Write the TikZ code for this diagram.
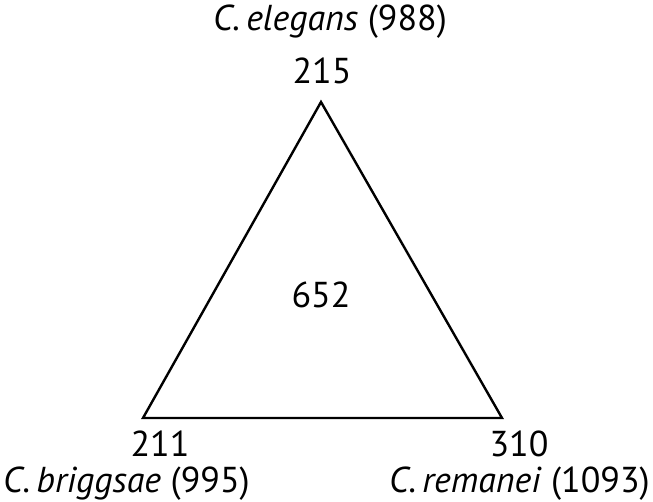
\documentclass[tikz,border=0pt]{standalone}
\usepackage{fontspec}
\setmainfont{PT Sans}
\begin{document}
\begin{tikzpicture}[x=1pt,y=1pt,
  lbl/.style={font=\fontsize{36}{43}\selectfont, inner sep=0pt, anchor=base}]
\useasboundingbox (0,0) rectangle (653,502);
\coordinate (A) at (321,400);
\coordinate (B) at (143,84);
\coordinate (C) at (502,84);
\draw[line width=2.4pt, line join=miter] (A) -- (B) -- (C) -- cycle;
\node[lbl] (ce) at (330,471) {\textit{C.\,elegans} (988)};
\node[lbl] (n215) at (322,418) {215};
\node[lbl] (n652) at (321,194) {652};
\node[lbl] (n211) at (160,45) {211};
\node[lbl] (n310) at (519,45) {310};
\node[lbl, anchor=base west] (cb) at (3,9) {\textit{C.\,briggsae} (995)};
\node[lbl, anchor=base east] (cr) at (650,9) {\textit{C.\,remanei} (1093)};
\end{tikzpicture}
\end{document}
